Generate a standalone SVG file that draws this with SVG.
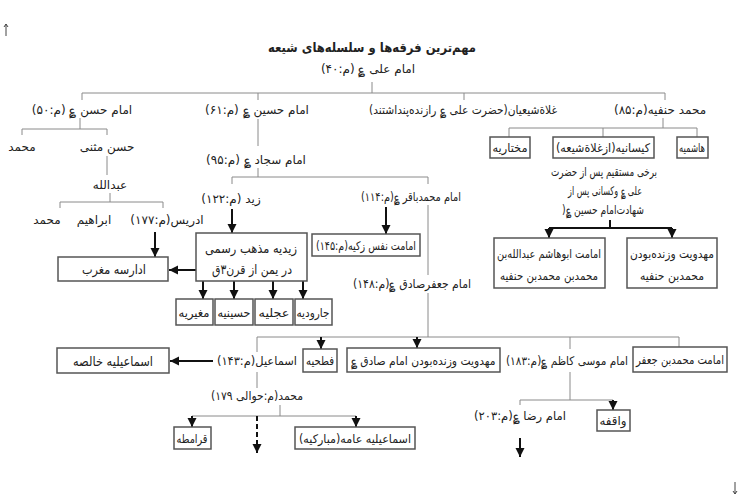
<svg xmlns="http://www.w3.org/2000/svg" width="744" height="501" viewBox="0 0 744 501">
<style>
.t{font-family:"DejaVu Sans","Noto Sans",sans-serif;font-size:12px;fill:#222;text-anchor:middle;direction:rtl;unicode-bidi:embed}
.h{font-size:13px;font-weight:bold}
.b{font-size:13px}
.ln{stroke:#8a8a8a;stroke-width:1;fill:none}
.ar{stroke:#111;stroke-width:2;fill:none;marker-end:url(#ah)}
.bk{stroke:#111;stroke-width:2;fill:none}
.dash{stroke-dasharray:5,3}
.bx{fill:#fff;stroke:#555;stroke-width:1.5}
.mk{stroke:#444;stroke-width:1;fill:none}
</style>
<defs>
<marker id="ah" viewBox="0 0 10 10" refX="10" refY="5" markerWidth="9" markerHeight="10" orient="auto" markerUnits="userSpaceOnUse"><path d="M0,0 L10,5 L0,10 z" fill="#111"/></marker>
</defs>
<rect width="744" height="501" fill="#fff"/>
<g id="marks">
<path class="mk" d="M6,24 V36 M4,27 L6,24 L8,27"/>
<path class="mk" d="M735,482 V494 M733,491 L735,494 L737,491"/>
</g>
<g id="connectors">
<path class="ln" d="M372,82 V93 M82,93 H665 M82,93 V100 M258,93 V100 M464,93 V100 M665,93 V100"/>
<path class="ln" d="M80,118 V129 M22,129 H107 M22,129 V135 M107,129 V135 M107,156 V175"/>
<path class="ln" d="M110,193 V202 M60,202 H163 M60,202 V208 M163,202 V208"/>
<path class="ar" d="M155,232 V257"/>
<path class="ln" d="M258,119 V146 M258,168 V177 M232,177 H428 M232,177 V184 M428,177 V184"/>
<path class="ar" d="M232,209 V233"/>
<path class="ar" d="M196,270 H169"/>
<path class="ar" d="M203,281 V299"/>
<path class="ar" d="M234,281 V299"/>
<path class="ar" d="M273,281 V299"/>
<path class="ar" d="M303,281 V299"/>
<path class="ar" d="M386,207 V234"/>
<path class="ln" d="M428,205 V275 M428,293 V337 M257,337 H679 M257,337 V352 M570,337 V349 M679,337 V347"/>
<path class="ar" d="M321,337 V349"/>
<path class="ar" d="M417,337 V348"/>
<path class="ar" d="M213,361 H170"/>
<path class="ln" d="M257,372 V388 M280,405 V416 M192,416 H356"/>
<path class="ar" d="M192,416 V427"/>
<path class="ar dash" d="M257,416 V453"/>
<path class="ar" d="M356,416 V427"/>
<path class="ln" d="M570,372 V400 M520,400 H613 M520,400 V405"/>
<path class="ar" d="M613,400 V410"/>
<path class="ar" d="M520,438 V457"/>
<path class="ln" d="M663,118 V128 M509,128 H697 M509,128 V137 M603,128 V137 M697,128 V137"/>
<path class="bk" d="M610,220 V228 M549,228 H672"/>
<path class="ar" d="M549,228 V238"/>
<path class="ar" d="M672,228 V238"/>
</g>
<g id="title"><text class="t h" x="372" y="52" textLength="208" lengthAdjust="spacingAndGlyphs">مهم‌ترین فرقه‌ها و سلسله‌های شیعه</text></g>
<g id="ali"><text class="t" x="368" y="73">امام علی ؏ (م:۴۰)</text></g>
<g id="hasan"><text class="t" x="82" y="114">امام حسن ؏ (م:۵۰)</text></g>
<g id="husayn"><text class="t" x="257" y="114">امام حسین ؏ (م:۶۱)</text></g>
<g id="ghulat"><text class="t" x="463" y="114" textLength="188" lengthAdjust="spacingAndGlyphs">غلاةشیعیان(حضرت علی ؏ رازنده‌پنداشتند)</text></g>
<g id="hanafiyya"><text class="t" x="660" y="114">محمد حنفیه(م:۸۵)</text></g>
<g id="muhammad1"><text class="t" x="22" y="151">محمد</text></g>
<g id="hasan-muthanna"><text class="t" x="107" y="151">حسن مثنی</text></g>
<g id="abdullah"><text class="t" x="110" y="189">عبدالله</text></g>
<g id="muhammad2"><text class="t" x="47" y="224">محمد</text></g>
<g id="ibrahim"><text class="t" x="94" y="224">ابراهیم</text></g>
<g id="idris"><text class="t" x="167" y="224">ادریس(م:۱۷۷)</text></g>
<g id="adarise"><rect class="bx" x="58" y="257" width="110" height="24"/><text class="t b" x="114" y="274" textLength="64" lengthAdjust="spacingAndGlyphs">ادارسه مغرب</text></g>
<g id="sajjad"><text class="t" x="256" y="164">امام سجاد ؏ (م:۹۵)</text></g>
<g id="zayd"><text class="t" x="231" y="203">زید (م:۱۲۲)</text></g>
<g id="baqir"><text class="t" x="411" y="201" textLength="100" lengthAdjust="spacingAndGlyphs">امام محمدباقر ؏(م:۱۱۴)</text></g>
<g id="zaydiyya"><rect class="bx" x="196" y="233" width="111" height="48"/><text class="t b" x="251" y="253" textLength="92" lengthAdjust="spacingAndGlyphs">زیدیه مذهب رسمی</text><text class="t b" x="252" y="274" textLength="80" lengthAdjust="spacingAndGlyphs">در یمن از قرن۳ق</text></g>
<g id="mughiriyya"><rect class="bx" x="176" y="299" width="37" height="26"/><text class="t" x="194" y="317" textLength="31" lengthAdjust="spacingAndGlyphs">مغیریه</text></g>
<g id="husayniyya"><rect class="bx" x="215" y="299" width="38" height="26"/><text class="t" x="234" y="317" textLength="33" lengthAdjust="spacingAndGlyphs">حسینیه</text></g>
<g id="ijliyya"><rect class="bx" x="255" y="299" width="38" height="26"/><text class="t" x="274" y="317" textLength="31" lengthAdjust="spacingAndGlyphs">عجلیه</text></g>
<g id="jarudiyya"><rect class="bx" x="295" y="299" width="37" height="26"/><text class="t" x="313" y="317" textLength="33" lengthAdjust="spacingAndGlyphs">جارودیه</text></g>
<g id="nafs-zakiyya"><rect class="bx" x="312" y="234" width="108" height="22"/><text class="t" x="366" y="250" textLength="100" lengthAdjust="spacingAndGlyphs">امامت نفس زکیه(م:۱۴۵)</text></g>
<g id="sadiq"><text class="t" x="412" y="288" textLength="118" lengthAdjust="spacingAndGlyphs">امام جعفرصادق ؏(م:۱۴۸)</text></g>
<g id="ismaili-khalisa"><rect class="bx" x="57" y="348" width="112" height="25"/><text class="t b" x="113" y="366" textLength="80" lengthAdjust="spacingAndGlyphs">اسماعیلیه خالصه</text></g>
<g id="ismail"><text class="t" x="257" y="365" textLength="80" lengthAdjust="spacingAndGlyphs">اسماعیل(م:۱۴۳)</text></g>
<g id="fathiyya"><rect class="bx" x="303" y="349" width="34" height="23"/><text class="t" x="320" y="365" textLength="28" lengthAdjust="spacingAndGlyphs">فطحیه</text></g>
<g id="mahdaviyat-sadiq"><rect class="bx" x="347" y="348" width="153" height="24"/><text class="t" x="423" y="365" textLength="145" lengthAdjust="spacingAndGlyphs">مهدویت وزنده‌بودن امام صادق ؏</text></g>
<g id="kazim"><text class="t" x="567" y="365" textLength="122" lengthAdjust="spacingAndGlyphs">امام موسی کاظم ؏(م:۱۸۳)</text></g>
<g id="muhammad-jafar"><rect class="bx" x="633" y="347" width="94" height="25"/><text class="t" x="680" y="364" textLength="88" lengthAdjust="spacingAndGlyphs">امامت محمدبن جعفر</text></g>
<g id="muhammad-ismail"><text class="t" x="257" y="400" textLength="92" lengthAdjust="spacingAndGlyphs">محمد(م:حوالی ۱۷۹)</text></g>
<g id="qaramita"><rect class="bx" x="174" y="427" width="37" height="22"/><text class="t" x="192" y="443" textLength="31" lengthAdjust="spacingAndGlyphs">قرامطه</text></g>
<g id="ismaili-amma"><rect class="bx" x="295" y="427" width="120" height="22"/><text class="t" x="355" y="443" textLength="112" lengthAdjust="spacingAndGlyphs">اسماعیلیه عامه(مبارکیه)</text></g>
<g id="waqifa"><rect class="bx" x="597" y="410" width="33" height="21"/><text class="t" x="613" y="425" textLength="27" lengthAdjust="spacingAndGlyphs">واقفه</text></g>
<g id="rida"><text class="t" x="520" y="420" textLength="92" lengthAdjust="spacingAndGlyphs">امام رضا ؏(م:۲۰۳)</text></g>
<g id="mukhtariyya"><rect class="bx" x="490" y="137" width="40" height="21"/><text class="t" x="510" y="152" textLength="35" lengthAdjust="spacingAndGlyphs">مختاریه</text></g>
<g id="kaysaniyya"><rect class="bx" x="553" y="137" width="101" height="21"/><text class="t" x="603" y="152" textLength="94" lengthAdjust="spacingAndGlyphs">کیسانیه(ازغلاة‌شیعه)</text><text class="t" x="604" y="176" textLength="106" lengthAdjust="spacingAndGlyphs">برخی مستقیم پس از حضرت</text><text class="t" x="605" y="195" textLength="74" lengthAdjust="spacingAndGlyphs">علی ؏ وکسانی پس از</text><text class="t" x="603" y="214" textLength="82" lengthAdjust="spacingAndGlyphs">شهادت‌امام حسین ؏(</text></g>
<g id="hashimiyya"><rect class="bx" x="677" y="137" width="31" height="21"/><text class="t" x="692" y="152" textLength="26" lengthAdjust="spacingAndGlyphs">هاشمیه</text></g>
<g id="abuhashim"><rect class="bx" x="494" y="238" width="111" height="50"/><text class="t" x="549" y="258" textLength="104" lengthAdjust="spacingAndGlyphs">امامت ابوهاشم عبدالله‌بن</text><text class="t" x="549" y="280" textLength="98" lengthAdjust="spacingAndGlyphs">محمدبن محمدبن حنفیه</text></g>
<g id="mahdaviyat-hanafiyya"><rect class="bx" x="627" y="238" width="90" height="50"/><text class="t" x="672" y="258" textLength="84" lengthAdjust="spacingAndGlyphs">مهدویت وزنده‌بودن</text><text class="t" x="672" y="280" textLength="64" lengthAdjust="spacingAndGlyphs">محمدبن حنفیه</text></g>
</svg>
